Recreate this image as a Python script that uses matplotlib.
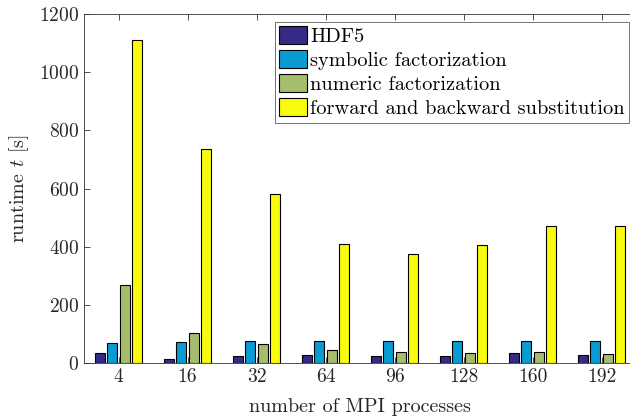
import numpy as np
import matplotlib
matplotlib.use("Agg")
import matplotlib.pyplot as plt

# ------------------------------
# DATA
# ------------------------------

procs = ["4", "16", "32", "64", "96", "128", "160", "192"]
hdf5 = [36, 14, 24, 27, 24, 24, 34, 27]
symbolic = [68, 72, 75, 75, 75, 75, 75, 75]
numeric = [268, 102, 64, 44, 37, 34, 37, 31]
substitution = [1110, 735, 580, 410, 375, 405, 472, 470]

labels = ["HDF5", "symbolic factorization", "numeric factorization",
          "forward and backward substitution"]
colors = ["#352A87", "#0A9BD2", "#A6BE6B", "#F9FB0E"]

# ------------------------------
# PLOT
# ------------------------------

plt.rcParams["font.family"] = "cmr10"
plt.rcParams["mathtext.fontset"] = "cm"
plt.rcParams["axes.formatter.use_mathtext"] = True

fig = plt.figure(figsize=(6.3, 4.18), dpi=100)
ax = fig.add_axes([84 / 630, 1 - 363 / 418, 552 / 630, 349 / 418])

x = np.arange(1, len(procs) + 1)
series = [hdf5, symbolic, numeric, substitution]
step = 0.727 / 4
width = step * 0.8
for k, (vals, lab, col) in enumerate(zip(series, labels, colors)):
    ax.bar(x + (k - 1.5) * step, vals, width, color=col, edgecolor="black",
           linewidth=0.8, label=lab)

ax.set_xlim(0.5, len(procs) + 0.5)
ax.set_ylim(0, 1200)
ax.set_xticks(x)
ax.set_xticklabels(procs)
ax.set_yticks(np.arange(0, 1201, 200))
ax.tick_params(direction="in", top=True, right=True, labelsize=14,
               length=4, width=0.6, color="#333333", labelcolor="#262626")
for s in ax.spines.values():
    s.set_linewidth(0.6)
    s.set_color("#333333")

ax.set_xlabel("number of MPI processes", fontsize=14.5, color="#262626", labelpad=9)
ax.set_ylabel("runtime $t$ [s]", fontsize=14.5, color="#262626", labelpad=6)

leg = ax.legend(loc="upper left", bbox_to_anchor=(275 / 630, 1 - 22 / 418),
                bbox_transform=fig.transFigure, fontsize=14.7, frameon=True,
                fancybox=False, edgecolor="#333333", borderpad=0.22,
                handlelength=1.35, handleheight=0.95, handletextpad=0.15,
                labelspacing=0.2, borderaxespad=0)
leg.get_frame().set_linewidth(0.6)

fig.savefig("out.png", dpi=100)
